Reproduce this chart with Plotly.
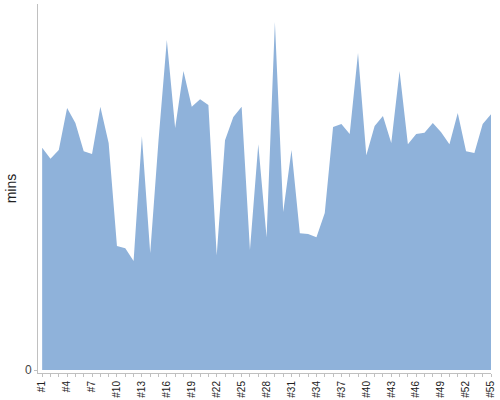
import plotly.graph_objects as go

categories = ["#" + str(i) for i in range(1, 56)]
mins = [60.7, 57.7, 60.1, 71.6, 67.5, 59.8, 59.0, 71.9, 62.0, 33.9,
        33.3, 29.8, 63.9, 32.0, 62.8, 90.2, 66.1, 81.7, 71.9, 74.0,
        72.4, 31.4, 62.8, 69.1, 71.9, 32.8, 61.7, 36.3, 95.1, 43.2,
        60.1, 37.4, 37.2, 36.3, 42.9, 66.4, 67.2, 64.5, 86.6, 58.7,
        66.7, 69.4, 62.0, 81.7, 61.7, 64.5, 64.8, 67.5, 65.0, 61.7,
        70.2, 59.8, 59.3, 67.2, 69.9]
tick_labels = [c if i % 3 == 0 else "" for i, c in enumerate(categories)]

fig = go.Figure()
fig.add_trace(go.Scatter(
    x=categories, y=mins, mode="lines", fill="tozeroy",
    line=dict(width=0, color="rgb(143,178,218)"),
    fillcolor="rgb(143,178,218)", hoverinfo="x+y", showlegend=False))

fig.update_layout(
    width=500, height=400,
    margin=dict(l=38, r=9, t=4, b=27),
    paper_bgcolor="white", plot_bgcolor="white",
    font=dict(family="Liberation Sans, Arial, sans-serif", color="#333"),
    xaxis=dict(type="category", range=[-0.5, 54], showgrid=False, zeroline=False,
               showline=True, linecolor="#c0c0c0", linewidth=1,
               ticks="outside", ticklen=3, tickcolor="#c0c0c0",
               tickvals=categories, ticktext=tick_labels, tickangle=-90,
               tickfont=dict(size=10, color="#222"), automargin=False),
    yaxis=dict(range=[-0.8, 100], showgrid=False, zeroline=False,
               showline=True, linecolor="#c0c0c0", linewidth=1,
               ticks="outside", ticklen=3, tickcolor="#c0c0c0",
               tickvals=[0], ticktext=["0"], tickfont=dict(size=12, color="#444"),
               title=dict(text="mins", font=dict(size=14, color="#222"), standoff=5),
               automargin=False),
)

fig.write_html("out.html", config={"displayModeBar": False},
               post_script="document.body.style.margin='0';")
